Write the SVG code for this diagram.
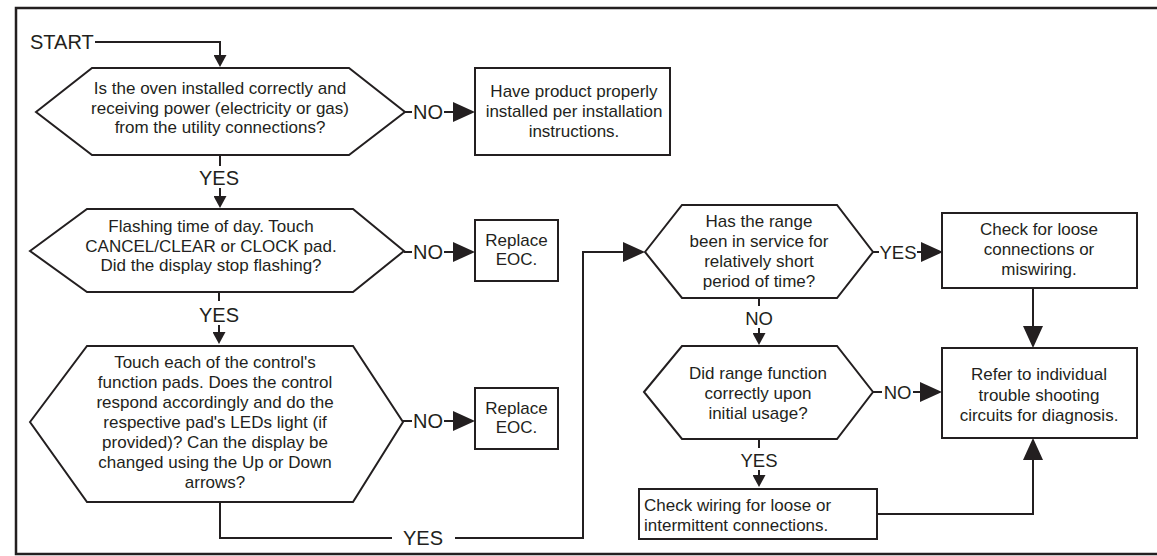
<svg xmlns="http://www.w3.org/2000/svg" width="1157" height="556" viewBox="0 0 1157 556">
<style>
text{font-family:"Liberation Sans",Arial,Helvetica,sans-serif;fill:#231f20}
.t{font-size:17px;text-anchor:middle}
.tl{font-size:17px;text-anchor:start}
.lb{font-size:20px;text-anchor:middle}
.lr{font-size:18.5px;text-anchor:middle}
.shape{fill:#fff;stroke:#231f20;stroke-width:2}
.c{fill:none;stroke:#231f20;stroke-width:2}
</style>
<defs>
<marker id="ab" markerUnits="userSpaceOnUse" markerWidth="22" markerHeight="20" refX="0" refY="10" orient="auto"><path d="M0,0 L22,10 L0,20 Z" fill="#231f20"/></marker>
<marker id="as" markerUnits="userSpaceOnUse" markerWidth="12" markerHeight="13" refX="0" refY="6.5" orient="auto"><path d="M0,0 L12,6.5 L0,13 Z" fill="#231f20"/></marker>
</defs>
<rect width="1157" height="556" fill="#fff"/>
<path d="M1157,8 H16 V554 H1157" fill="none" stroke="#231f20" stroke-width="2.5"/>
<g id="start"><text x="30" y="49" style="font-size:20px">START</text></g>
<g id="q1"><polygon class="shape" points="36,112 92,68 349,68 405,112 349,155 92,155"/>
<text class="t" x="220" y="94">Is the oven installed correctly and</text>
<text class="t" x="220" y="113.5">receiving power (electricity or gas)</text>
<text class="t" x="220" y="133">from the utility connections?</text></g>
<g id="a1"><rect class="shape" x="475" y="68" width="195" height="87"/>
<text class="t" x="574" y="97">Have product properly</text>
<text class="t" x="574" y="117">installed per installation</text>
<text class="t" x="574" y="137">instructions.</text></g>
<g id="q2"><polygon class="shape" points="30,251 87,209 353,209 404,251 353,292 87,292"/>
<text class="t" x="211" y="232">Flashing time of day. Touch</text>
<text class="t" x="211" y="251.5">CANCEL/CLEAR or CLOCK pad.</text>
<text class="t" x="211" y="271">Did the display stop flashing?</text></g>
<g id="a2"><rect class="shape" x="475" y="220" width="83" height="61"/>
<text class="t" x="516.5" y="246">Replace</text>
<text class="t" x="516.5" y="265">EOC.</text></g>
<g id="q3"><polygon class="shape" points="30,422 87,346 353,346 403,422 353,502 87,502"/>
<text class="t" x="215" y="368">Touch each of the control's</text>
<text class="t" x="215" y="388">function pads. Does the control</text>
<text class="t" x="215" y="408">respond accordingly and do the</text>
<text class="t" x="215" y="428">respective pad's LEDs light (if</text>
<text class="t" x="215" y="448">provided)? Can the display be</text>
<text class="t" x="215" y="468">changed using the Up or Down</text>
<text class="t" x="215" y="488">arrows?</text></g>
<g id="a3"><rect class="shape" x="475" y="388" width="83" height="61"/>
<text class="t" x="516.5" y="414">Replace</text>
<text class="t" x="516.5" y="433">EOC.</text></g>
<g id="q4"><polygon class="shape" points="645,252 682,205 837,205 873,252 837,298 682,298"/>
<text class="t" x="759" y="227">Has the range</text>
<text class="t" x="759" y="247">been in service for</text>
<text class="t" x="759" y="267">relatively short</text>
<text class="t" x="759" y="287">period of time?</text></g>
<g id="a4"><rect class="shape" x="942" y="213" width="195" height="75"/>
<text class="t" x="1039" y="235">Check for loose</text>
<text class="t" x="1039" y="255">connections or</text>
<text class="t" x="1039" y="275">miswiring.</text></g>
<g id="q5"><polygon class="shape" points="644,392 682,346 837,346 873,392 837,439 682,439"/>
<text class="t" x="758" y="379">Did range function</text>
<text class="t" x="758" y="399">correctly upon</text>
<text class="t" x="758" y="419">initial usage?</text></g>
<g id="a5"><rect class="shape" x="942" y="348" width="195" height="90"/>
<text class="t" x="1039" y="380">Refer to individual</text>
<text class="t" x="1039" y="400.5">trouble shooting</text>
<text class="t" x="1039" y="421">circuits for diagnosis.</text></g>
<g id="a6"><rect class="shape" x="639" y="489" width="238" height="50"/>
<text class="tl" x="644" y="511">Check wiring for loose or</text>
<text class="tl" x="644" y="531">intermittent connections.</text></g>
<g id="connectors">
<path class="c" d="M95,42 H220 V55" marker-end="url(#as)"/>
<path class="c" d="M220,155 V166"/>
<path class="c" d="M220,188 V196" marker-end="url(#as)"/>
<path class="c" d="M405,112 H412"/>
<path class="c" d="M444,112 H453" marker-end="url(#ab)"/>
<path class="c" d="M219,292 V301"/>
<path class="c" d="M219,325 V332" marker-end="url(#as)"/>
<path class="c" d="M404,252 H412"/>
<path class="c" d="M444,252 H453" marker-end="url(#ab)"/>
<path class="c" d="M403,421 H412"/>
<path class="c" d="M444,421 H453" marker-end="url(#ab)"/>
<path class="c" d="M220,502 V538 H392"/>
<path class="c" d="M455,538 H583 V252 H623" marker-end="url(#ab)"/>
<path class="c" d="M873,252 H879"/>
<path class="c" d="M917,252 H921" marker-end="url(#ab)"/>
<path class="c" d="M759,298 V306"/>
<path class="c" d="M759,328 V333" marker-end="url(#as)"/>
<path class="c" d="M873,392 H882"/>
<path class="c" d="M913,392 H920" marker-end="url(#ab)"/>
<path class="c" d="M759,439 V448"/>
<path class="c" d="M759,470 V475" marker-end="url(#as)"/>
<path class="c" d="M1033,288 V326" marker-end="url(#ab)"/>
<path class="c" d="M877,514 H1033 V460" marker-end="url(#ab)"/>
<text class="lb" x="219" y="185">YES</text>
<text class="lb" x="428" y="119">NO</text>
<text class="lb" x="219" y="322">YES</text>
<text class="lb" x="428" y="259">NO</text>
<text class="lb" x="428" y="428">NO</text>
<text class="lb" x="423" y="545">YES</text>
<text class="lr" x="898" y="258.5">YES</text>
<text class="lr" x="759" y="325">NO</text>
<text class="lr" x="897.5" y="399">NO</text>
<text class="lr" x="759" y="467">YES</text>
</g>
</svg>
